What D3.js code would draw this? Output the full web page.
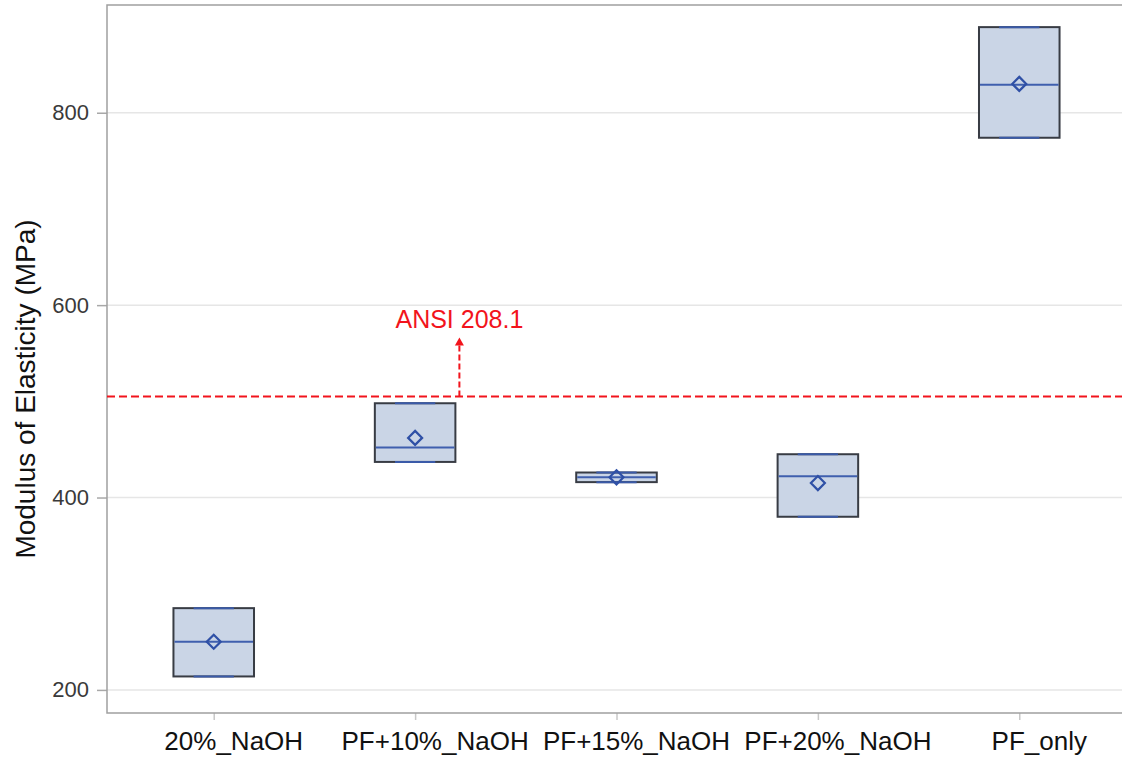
<!DOCTYPE html>
<html>
<head>
<meta charset="utf-8">
<script src="https://cdn.jsdelivr.net/npm/d3@7"></script>
<style>
  html, body { margin: 0; padding: 0; background: #fff; }
  svg { display: block; }
</style>
</head>
<body>
<svg id="chart" width="1122" height="757"></svg>
<script>
// Modulus of elasticity per treatment (MPa): box = quartiles, line = median, diamond = mean
const categories = ["20%_NaOH", "PF+10%_NaOH", "PF+15%_NaOH", "PF+20%_NaOH", "PF_only"];
const q1Values     = [214, 437, 416, 380, 774];
const q3Values     = [285, 498, 426, 445, 889];
const minValues    = [214, 437, 416, 380, 774];
const maxValues    = [285, 498, 426, 445, 889];
const medianValues = [250, 452, 421, 422, 829];
const meanValues   = [250, 462, 421, 415, 830];
const yTicks = [200, 400, 600, 800];
const ansiValue = 505;
const ansiLabel = "ANSI 208.1";
const yTitle = "Modulus of Elasticity (MPa)";

const svg = d3.select("#chart");
const W = 1122, H = 757;
const plot = { left: 107, right: 1126, top: 5, bottom: 713 };

const x = d3.scalePoint().domain(categories).range([plot.left, plot.right]).padding(0.53);
const y = d3.scaleLinear().domain([176, 912]).range([plot.bottom, plot.top]);
const boxW = x.step() * 0.4;

const font = "'Liberation Sans', Arial, sans-serif";

// gridlines
svg.append("g").selectAll("line").data(yTicks).join("line")
  .attr("x1", plot.left).attr("x2", W)
  .attr("y1", d => y(d)).attr("y2", d => y(d))
  .attr("stroke", "#e6e6e6").attr("stroke-width", 1.5);

// y axis
const yAxis = svg.append("g")
  .attr("transform", `translate(${plot.left},0)`)
  .call(d3.axisLeft(y).tickValues(yTicks).tickSize(10).tickPadding(8));
yAxis.select(".domain").remove();
yAxis.selectAll(".tick line").attr("stroke", "#a8a8a8").attr("stroke-width", 1.5);
yAxis.selectAll(".tick text")
  .attr("font-family", font).attr("font-size", 22).attr("fill", "#3a3a3a");

// x axis
const xAxis = svg.append("g")
  .attr("transform", `translate(0,${plot.bottom})`)
  .call(d3.axisBottom(x).tickSize(7).tickFormat(""));
xAxis.select(".domain").remove();
xAxis.selectAll(".tick line").attr("stroke", "#c8c8c8").attr("stroke-width", 1.5);

// category labels
svg.append("g").selectAll("text").data(categories).join("text")
  .attr("x", d => x(d) + 20)
  .attr("y", 750)
  .attr("text-anchor", "middle")
  .attr("font-family", font).attr("font-size", 26).attr("fill", "#111")
  .text(d => d);

// frame (left, top, bottom)
svg.append("path")
  .attr("d", `M${W},${plot.top}H${plot.left}V${plot.bottom}H${W}`)
  .attr("fill", "none").attr("stroke", "#a0a0a0").attr("stroke-width", 1.5);

// y title
svg.append("text")
  .attr("transform", `translate(35,${(215 + 563) / 2}) rotate(-90)`)
  .attr("text-anchor", "middle")
  .attr("font-family", font).attr("font-size", 28).attr("fill", "#111")
  .text(yTitle);

// boxes
const rows = categories.map((c, i) => ({
  c, q1: q1Values[i], q3: q3Values[i], lo: minValues[i], hi: maxValues[i],
  med: medianValues[i], mean: meanValues[i]
}));
const g = svg.append("g").selectAll("g").data(rows).join("g");

g.append("rect")
  .attr("x", d => x(d.c) - boxW / 2)
  .attr("width", boxW)
  .attr("y", d => y(d.q3))
  .attr("height", d => y(d.q1) - y(d.q3))
  .attr("fill", "#cad5e6").attr("stroke", "#383c44").attr("stroke-width", 2);

// whisker caps
["lo", "hi"].forEach(k => {
  g.append("line")
    .attr("x1", d => x(d.c) - boxW / 4).attr("x2", d => x(d.c) + boxW / 4)
    .attr("y1", d => y(d[k])).attr("y2", d => y(d[k]))
    .attr("stroke", "#3a5aa8").attr("stroke-width", 2);
});

// median
g.append("line")
  .attr("x1", d => x(d.c) - boxW / 2 + 1).attr("x2", d => x(d.c) + boxW / 2 - 1)
  .attr("y1", d => y(d.med)).attr("y2", d => y(d.med))
  .attr("stroke", "#3f5fae").attr("stroke-width", 2);

// mean diamond
const dm = 7;
g.append("path")
  .attr("d", d => {
    const cx = x(d.c), cy = y(d.mean);
    return `M${cx},${cy - dm}L${cx + dm},${cy}L${cx},${cy + dm}L${cx - dm},${cy}Z`;
  })
  .attr("fill", "none").attr("stroke", "#2f50a6").attr("stroke-width", 2.2);

// ANSI threshold line
const red = "#f2141c";
svg.append("line")
  .attr("x1", plot.left).attr("x2", W)
  .attr("y1", y(ansiValue)).attr("y2", y(ansiValue))
  .attr("stroke", red).attr("stroke-width", 2).attr("stroke-dasharray", "8,4");

// arrow pointing up to the label
const ax = x(categories[1]) + boxW / 2 + 4;
const tipY = y(ansiValue) - 59;
svg.append("line")
  .attr("x1", ax).attr("x2", ax)
  .attr("y1", y(ansiValue)).attr("y2", tipY + 7)
  .attr("stroke", red).attr("stroke-width", 2).attr("stroke-dasharray", "6,3");
svg.append("path")
  .attr("d", `M${ax},${tipY}L${ax + 4.5},${tipY + 8}L${ax - 4.5},${tipY + 8}Z`)
  .attr("fill", red);

svg.append("text")
  .attr("x", ax).attr("y", tipY - 10)
  .attr("text-anchor", "middle")
  .attr("font-family", font).attr("font-size", 25).attr("fill", red)
  .text(ansiLabel);
</script>
</body>
</html>
